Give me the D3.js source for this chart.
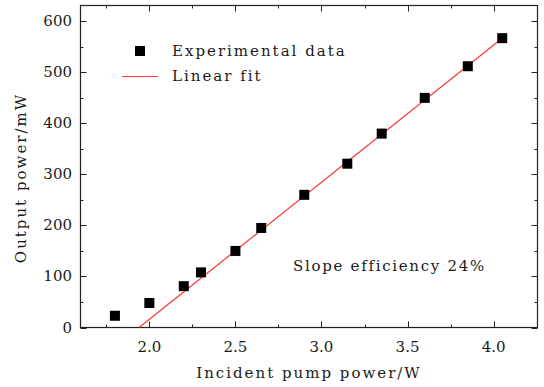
<!DOCTYPE html>
<html>
<head>
<meta charset="utf-8">
<script src="https://cdn.jsdelivr.net/npm/d3@7"></script>
<style>
  body { margin: 0; background: #fff; }
  text { font-family: "DejaVu Serif", serif; fill: #1a1a1a; }
  .words { letter-spacing: 2px; }
</style>
</head>
<body>
<svg width="544" height="387"></svg>
<script>
// measured points
var pumpPower = [1.8, 2.0, 2.2, 2.3, 2.5, 2.65, 2.9, 3.15, 3.35, 3.6, 3.85, 4.05];
var outputPower = [23, 48, 81, 108, 150, 195, 260, 321, 380, 450, 512, 567];
// linear fit end points
var fitX = [1.94, 4.05];
var fitY = [0, 567];
var xTicks = [2.0, 2.5, 3.0, 3.5, 4.0];
var yTicks = [0, 100, 200, 300, 400, 500, 600];

var svg = d3.select("svg");
var pLeft = 80.5, pRight = 537.5, pTop = 5.5, pBottom = 327.5;

var x = d3.scaleLinear().domain([1.6, 4.255]).range([pLeft, pRight]);
var y = d3.scaleLinear().domain([0, 631]).range([pBottom, pTop]);

var xMinor = d3.range(1.75, 4.26, 0.5);
var yMinor = d3.range(50, 631, 100);

function drawTicks(){
    var g = svg.append("g").attr("stroke", "#222").attr("stroke-width", 1);
    xTicks.forEach(function(v){
        var px = Math.round(x(v)) + 0.5;
        g.append("line").attr("x1", px).attr("x2", px).attr("y1", pBottom).attr("y2", pBottom - 6);
        g.append("line").attr("x1", px).attr("x2", px).attr("y1", pTop).attr("y2", pTop + 6);
    });
    xMinor.forEach(function(v){
        var px = Math.round(x(v)) + 0.5;
        g.append("line").attr("x1", px).attr("x2", px).attr("y1", pBottom).attr("y2", pBottom - 3);
        g.append("line").attr("x1", px).attr("x2", px).attr("y1", pTop).attr("y2", pTop + 3);
    });
    yTicks.forEach(function(v){
        var py = Math.round(y(v)) + 0.5;
        g.append("line").attr("x1", pLeft).attr("x2", pLeft + 6).attr("y1", py).attr("y2", py);
        g.append("line").attr("x1", pRight).attr("x2", pRight - 6).attr("y1", py).attr("y2", py);
    });
    yMinor.forEach(function(v){
        var py = Math.round(y(v)) + 0.5;
        g.append("line").attr("x1", pLeft).attr("x2", pLeft + 3).attr("y1", py).attr("y2", py);
        g.append("line").attr("x1", pRight).attr("x2", pRight - 3).attr("y1", py).attr("y2", py);
    });
}
drawTicks();

// frame
svg.append("rect")
    .attr("x", pLeft).attr("y", pTop)
    .attr("width", pRight - pLeft).attr("height", pBottom - pTop)
    .attr("fill", "none").attr("stroke", "#222").attr("stroke-width", 1.2);

// tick labels
svg.append("g").selectAll("text").data(xTicks).enter().append("text")
    .attr("x", function(d){ return x(d); })
    .attr("y", 352)
    .attr("text-anchor", "middle")
    .attr("font-size", 15)
    .text(function(d){ return d.toFixed(1); });
svg.append("g").selectAll("text").data(yTicks).enter().append("text")
    .attr("x", 72)
    .attr("y", function(d){ return y(d) + 5; })
    .attr("text-anchor", "end")
    .attr("font-size", 15)
    .text(function(d){ return d; });

// axis titles
svg.append("text").attr("class", "words")
    .attr("x", (pLeft + pRight) / 2).attr("y", 378)
    .attr("text-anchor", "middle").attr("font-size", 15)
    .text("Incident pump power/W");
svg.append("text").attr("class", "words")
    .attr("transform", "translate(26,178) rotate(-90)")
    .attr("text-anchor", "middle").attr("font-size", 15)
    .text("Output power/mW");

// fit line
var line = d3.line()
    .x(function(d){ return x(d[0]); })
    .y(function(d){ return y(d[1]); });
svg.append("path")
    .datum(d3.zip(fitX, fitY))
    .attr("d", line)
    .attr("fill", "none")
    .attr("stroke", "#f33")
    .attr("stroke-width", 1.2);

// points
var s = 10;
svg.append("g").selectAll("rect").data(d3.zip(pumpPower, outputPower)).enter().append("rect")
    .attr("x", function(d){ return x(d[0]) - s / 2; })
    .attr("y", function(d){ return y(d[1]) - s / 2; })
    .attr("width", s).attr("height", s)
    .attr("fill", "#000");

// legend
svg.append("rect").attr("x", 135).attr("y", 46).attr("width", s).attr("height", s).attr("fill", "#000");
svg.append("text").attr("class", "words").attr("x", 172).attr("y", 56).attr("font-size", 15).text("Experimental data");
svg.append("line").attr("x1", 122).attr("x2", 158).attr("y1", 76.5).attr("y2", 76.5)
    .attr("stroke", "#f33").attr("stroke-width", 1.2);
svg.append("text").attr("class", "words").attr("x", 172).attr("y", 81).attr("font-size", 15).text("Linear fit");

svg.append("text").attr("class", "words").attr("x", 293).attr("y", 271).attr("font-size", 15)
    .style("letter-spacing", "1.7px").text("Slope efficiency 24%");
</script>
</body>
</html>
